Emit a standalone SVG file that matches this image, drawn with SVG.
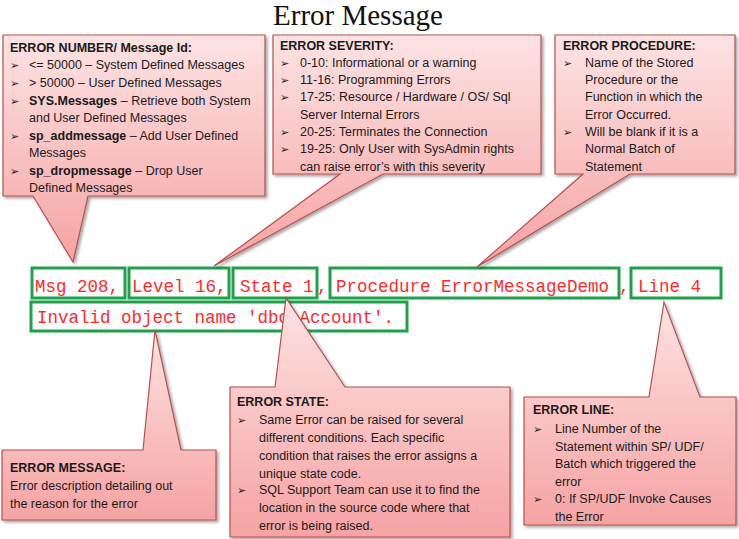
<svg xmlns="http://www.w3.org/2000/svg" width="739" height="539" viewBox="0 0 739 539">
<defs>
<linearGradient id="pk" x1="0" y1="0" x2="0" y2="1">
<stop offset="0" stop-color="#fde3e3"/><stop offset="1" stop-color="#f6a3a3"/>
</linearGradient>
<filter id="sh" x="-5%" y="-5%" width="115%" height="115%"><feDropShadow dx="2" dy="2" stdDeviation="1.5" flood-color="#000" flood-opacity="0.35"/></filter>
</defs>
<style>
.co{fill:url(#pk);stroke:#b6504d;stroke-width:1.2;filter:url(#sh)}
.t{font-family:"Liberation Sans",Arial,sans-serif;font-size:12.5px;fill:#1a1a1a}
.b{font-weight:bold}
.ar{font-family:"DejaVu Sans",sans-serif;font-size:11px;fill:#1a1a1a}
.code{font-family:"Liberation Mono","DejaVu Sans Mono",monospace;font-size:17.5px;fill:#ff2a2a}
.gb{fill:none;stroke:#1fa04b;stroke-width:3}
.title{font-family:"Liberation Serif","Times New Roman",serif;font-size:29px;fill:#111}
</style>
<rect width="739" height="539" fill="#fff"/>
<text class="title" x="358" y="25" text-anchor="middle">Error Message</text>

<g id="code">
<rect class="gb" x="32" y="268" width="93" height="30"/>
<rect class="gb" x="129" y="268" width="100" height="30"/>
<rect class="gb" x="233" y="268" width="84" height="30"/>
<rect class="gb" x="330" y="268" width="289" height="30"/>
<rect class="gb" x="631" y="268" width="90" height="30"/>
<rect class="gb" x="31" y="302" width="376" height="29"/>
<text class="code" x="35" y="292">Msg 208,</text>
<text class="code" x="132" y="292">Level 16,</text>
<text class="code" x="240" y="292">State 1</text>
<text class="code" x="317" y="292">,</text>
<text class="code" x="336" y="292">Procedure ErrorMessageDemo</text>
<text class="code" x="619" y="292">,</text>
<text class="code" x="638" y="292">Line 4</text>
<text class="code" x="37" y="323">Invalid object name 'dbo.Account'.</text>
</g>

<g id="n-number">
<path class="co" d="M3,35 H265 V196 H88 L73,262 L33,196 H3 Z"/>
<text class="t b" x="10" y="52">ERROR NUMBER/ Message Id:</text>
<text class="ar" x="10" y="69">➢</text><text class="t" x="29" y="69">&lt;= 50000  – System Defined Messages</text>
<text class="ar" x="10" y="87">➢</text><text class="t" x="29" y="87">&gt; 50000  – User Defined Messages</text>
<text class="ar" x="10" y="105">➢</text><text class="t" x="29" y="105"><tspan class="b">SYS.Messages</tspan> – Retrieve both System</text>
<text class="t" x="29" y="122">and User Defined Messages</text>
<text class="ar" x="10" y="140">➢</text><text class="t" x="29" y="140"><tspan class="b">sp_addmessage</tspan> – Add User Defined</text>
<text class="t" x="29" y="157">Messages</text>
<text class="ar" x="10" y="175">➢</text><text class="t" x="29" y="175"><tspan class="b">sp_dropmessage</tspan> – Drop  User</text>
<text class="t" x="29" y="192">Defined Messages</text>
</g>

<g id="n-severity">
<path class="co" d="M273,35 H541 V174 H383 L214,266 L340,174 H273 Z"/>
<text class="t b" x="280" y="50">ERROR SEVERITY:</text>
<text class="ar" x="280" y="67">➢</text><text class="t" x="300" y="67">0-10:  Informational or a warning</text>
<text class="ar" x="280" y="84">➢</text><text class="t" x="300" y="84">11-16: Programming Errors</text>
<text class="ar" x="280" y="101">➢</text><text class="t" x="300" y="101">17-25: Resource / Hardware / OS/ Sql</text>
<text class="t" x="300" y="119">Server Internal Errors</text>
<text class="ar" x="280" y="136">➢</text><text class="t" x="300" y="136">20-25: Terminates the Connection</text>
<text class="ar" x="280" y="153">➢</text><text class="t" x="300" y="153">19-25: Only User with SysAdmin rights</text>
<text class="t" x="300" y="171">can raise  error’s with this severity</text>
</g>

<g id="n-procedure">
<path class="co" d="M555,35 H735 V174 H630 L477,267 L583,174 H555 Z"/>
<text class="t b" x="563" y="50">ERROR PROCEDURE:</text>
<text class="ar" x="563" y="67">➢</text><text class="t" x="585" y="67">Name of the Stored</text>
<text class="t" x="585" y="84">Procedure or the</text>
<text class="t" x="585" y="101">Function in which the</text>
<text class="t" x="585" y="119">Error Occurred.</text>
<text class="ar" x="563" y="136">➢</text><text class="t" x="585" y="136">Will be blank if it is a</text>
<text class="t" x="585" y="153">Normal Batch of</text>
<text class="t" x="585" y="171">Statement</text>
</g>

<g id="n-message">
<path class="co" d="M2,450 H143 L155,330 L181,450 H216 V520 H2 Z"/>
<text class="t b" x="10" y="472">ERROR MESSAGE:</text>
<text class="t" x="10" y="490">Error description detailing out</text>
<text class="t" x="10" y="508">the reason for the error</text>
</g>

<g id="n-state">
<path class="co" d="M230,387 H275 L286,298 L345,387 H510 V537 H230 Z"/>
<text class="t b" x="237" y="406">ERROR STATE:</text>
<text class="ar" x="237" y="424">➢</text><text class="t" x="259" y="424">Same Error can be raised for several</text>
<text class="t" x="259" y="442">different conditions. Each specific</text>
<text class="t" x="259" y="460">condition that raises the error assigns a</text>
<text class="t" x="259" y="478">unique state code.</text>
<text class="ar" x="237" y="494">➢</text><text class="t" x="259" y="494">SQL Support Team can use it to find the</text>
<text class="t" x="259" y="512">location in the source code where that</text>
<text class="t" x="259" y="530">error is being raised.</text>
</g>

<g id="n-line">
<path class="co" d="M524,397 H649 L664,302 L700,397 H736 V525 H524 Z"/>
<text class="t b" x="533" y="414">ERROR LINE:</text>
<text class="ar" x="533" y="433">➢</text><text class="t" x="555" y="433">Line Number of the</text>
<text class="t" x="555" y="451">Statement within SP/ UDF/</text>
<text class="t" x="555" y="468">Batch which triggered the</text>
<text class="t" x="555" y="486">error</text>
<text class="ar" x="533" y="503">➢</text><text class="t" x="555" y="503">0: If SP/UDF Invoke Causes</text>
<text class="t" x="555" y="521">the Error</text>
</g>
<g id="connectors"/>
</svg>
